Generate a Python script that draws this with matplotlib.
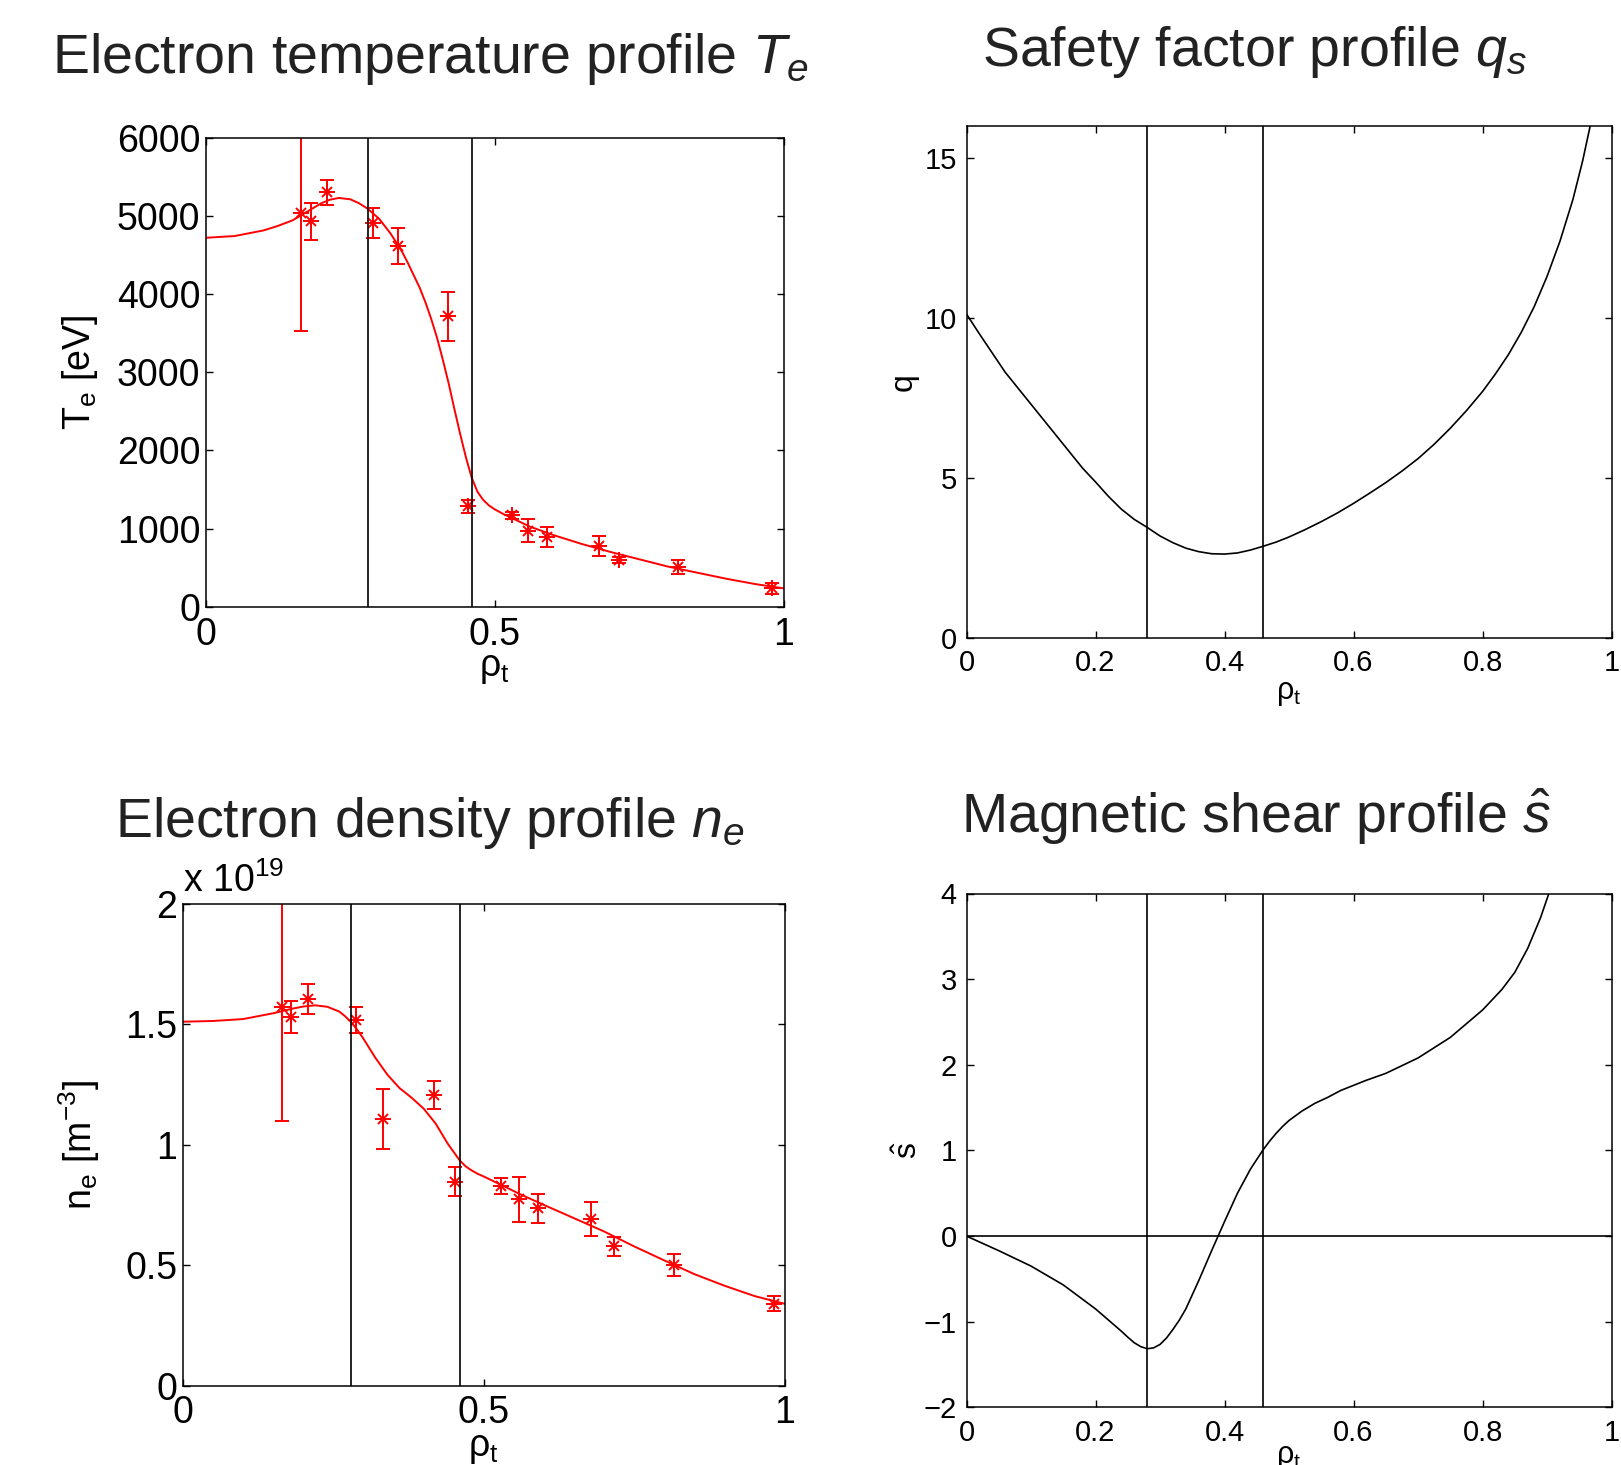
import numpy as np
import matplotlib
matplotlib.use("Agg")
import matplotlib.pyplot as plt

plt.rcParams['font.family'] = ['Liberation Sans', 'DejaVu Sans']
plt.rcParams['mathtext.fontset'] = 'custom'
plt.rcParams['mathtext.rm'] = 'Liberation Sans'
plt.rcParams['mathtext.it'] = 'Liberation Sans:italic'
plt.rcParams['mathtext.bf'] = 'Liberation Sans:bold'

# ---------------- data ----------------
boundaries = [0.28, 0.46]

# Electron temperature measurements
te_rho = [0.165, 0.182, 0.209, 0.290, 0.333, 0.419, 0.453, 0.530, 0.558, 0.591, 0.680, 0.715, 0.817, 0.980]
te_val = [5030, 4930, 5300, 4910, 4615, 3715, 1285, 1172, 975, 890, 775, 603, 513, 235]
te_err = [1500, 235, 160, 195, 227, 316, 80, 45, 150, 130, 125, 40, 90, 73]

# Electron temperature fit
te_fit_rho = [0.0, 0.05, 0.1, 0.125, 0.15, 0.175, 0.2, 0.215, 0.23, 0.25, 0.265, 0.28, 0.3, 0.32,
              0.34, 0.35, 0.36, 0.37, 0.38, 0.39, 0.40, 0.41, 0.42, 0.43, 0.44, 0.45, 0.46,
              0.47, 0.48, 0.49, 0.5, 0.515, 0.53, 0.56, 0.6, 0.65, 0.7, 0.75, 0.8, 0.85, 0.9,
              0.95, 1.0]
te_fit_val = [4718, 4740, 4812, 4870, 4940, 5050, 5160, 5205, 5227, 5210, 5160, 5090, 4960, 4769,
              4534, 4390, 4234, 4080, 3892, 3680, 3440, 3160, 2860, 2530, 2210, 1910, 1650,
              1470, 1365, 1295, 1245, 1185, 1133, 1027, 920, 804, 701, 607, 513, 436, 359,
              291, 235]

# Electron density measurements (units of 1e19 m^-3)
ne_rho = [0.164, 0.180, 0.208, 0.288, 0.332, 0.417, 0.453, 0.529, 0.559, 0.591, 0.678, 0.716, 0.817, 0.982]
ne_val = [1.569, 1.529, 1.603, 1.519, 1.107, 1.206, 0.847, 0.828, 0.773, 0.736, 0.692, 0.578, 0.501, 0.341]
ne_err = [0.47, 0.065, 0.063, 0.054, 0.123, 0.060, 0.060, 0.033, 0.092, 0.061, 0.069, 0.039, 0.047, 0.030]

# Electron density fit
ne_fit_rho = [0.0, 0.05, 0.1, 0.15, 0.18, 0.2, 0.22, 0.24, 0.26, 0.27, 0.28, 0.29, 0.3, 0.32, 0.34,
              0.36, 0.38, 0.40, 0.42, 0.44, 0.46, 0.47, 0.48, 0.49, 0.5, 0.53, 0.56, 0.6, 0.65,
              0.7, 0.75, 0.8, 0.85, 0.9, 0.95, 1.0]
ne_fit_val = [1.510, 1.513, 1.521, 1.545, 1.563, 1.573, 1.578, 1.572, 1.552, 1.532, 1.507, 1.476,
              1.44, 1.36, 1.29, 1.235, 1.195, 1.150, 1.088, 1.005, 0.935, 0.910, 0.893, 0.879,
              0.868, 0.832, 0.795, 0.750, 0.695, 0.640, 0.578, 0.520, 0.463, 0.415, 0.372, 0.340]

# Safety factor profile
q_rho = [0.0, 0.02, 0.04, 0.06, 0.08, 0.1, 0.12, 0.14, 0.16, 0.18, 0.2, 0.22, 0.24, 0.26, 0.28,
         0.3, 0.32, 0.34, 0.36, 0.38, 0.4, 0.42, 0.44, 0.46, 0.48, 0.5, 0.525, 0.55, 0.575, 0.6,
         0.625, 0.65, 0.675, 0.7, 0.725, 0.75, 0.775, 0.8, 0.82, 0.84, 0.86, 0.88, 0.9, 0.92,
         0.94, 0.955, 0.97]
q_val = [10.12, 9.5, 8.9, 8.3, 7.8, 7.3, 6.8, 6.3, 5.8, 5.3, 4.87, 4.42, 4.02, 3.7, 3.45,
         3.18, 2.97, 2.8, 2.69, 2.625, 2.615, 2.65, 2.74, 2.86, 2.99, 3.15, 3.38, 3.63, 3.9, 4.2,
         4.52, 4.85, 5.21, 5.6, 6.05, 6.55, 7.1, 7.7, 8.25, 8.85, 9.55, 10.35, 11.3, 12.4,
         13.7, 14.9, 16.3]

# Magnetic shear profile
s_rho = [0.0, 0.05, 0.1, 0.15, 0.2, 0.22, 0.24, 0.25, 0.26, 0.27, 0.28, 0.29, 0.3, 0.31, 0.32,
         0.33, 0.34, 0.36, 0.38, 0.40, 0.42, 0.44, 0.46, 0.47, 0.48, 0.49, 0.5, 0.52, 0.54,
         0.56, 0.58, 0.6, 0.62, 0.65, 0.7, 0.75, 0.8, 0.83, 0.85, 0.87, 0.89, 0.905]
s_val = [0.0, -0.17, -0.35, -0.57, -0.85, -0.98, -1.11, -1.18, -1.245, -1.29, -1.315, -1.305,
         -1.265, -1.19, -1.09, -0.98, -0.85, -0.52, -0.17, 0.17, 0.5, 0.78, 1.01, 1.11, 1.2,
         1.28, 1.35, 1.46, 1.55, 1.62, 1.70, 1.76, 1.82, 1.90, 2.08, 2.32, 2.64, 2.88, 3.08,
         3.36, 3.72, 4.05]

# ---------------- figure ----------------
W, H = 1621, 1465
fig = plt.figure(figsize=(W / 100, H / 100), dpi=100)


def rect(l, t, r, b):
    return [l / W, 1 - b / H, (r - l) / W, (b - t) / H]


def style(ax, fs, xpad, ypad):
    ax.tick_params(direction='in', top=True, right=True, length=5, width=1.0, labelsize=fs)
    ax.tick_params(axis='x', pad=xpad)
    ax.tick_params(axis='y', pad=ypad)
    for sp in ax.spines.values():
        sp.set_linewidth(1.1)


RED = '#ff0000'
LFS = 27   # left panels font size
RFS = 21   # right panels font size


def meas(ax, rho, val, err):
    ax.errorbar(rho, val, yerr=err, fmt='none', ecolor=RED, elinewidth=1.4,
                capsize=5, capthick=1.4)
    ax.plot(rho, val, ls='none', marker='+', ms=11, mew=1.4, color=RED)
    ax.plot(rho, val, ls='none', marker='x', ms=7.5, mew=1.4, color=RED)


# --- Top-left: Te ---
ax1 = fig.add_axes(rect(205.7, 137.5, 784.0, 606.8))
ax1.plot(te_fit_rho, te_fit_val, color=RED, lw=1.4)
meas(ax1, te_rho, te_val, te_err)
for b in boundaries:
    ax1.axvline(b, color='black', lw=1.2)
ax1.set_xlim(0, 1)
ax1.set_ylim(0, 6000)
ax1.set_xticks([0, 0.5, 1])
ax1.set_xticklabels(['0', '0.5', '1'])
ax1.set_yticks([0, 1000, 2000, 3000, 4000, 5000, 6000])
style(ax1, LFS, 7, 4)
ax1.set_xlabel(r'ρ$_\mathregular{t}$', fontsize=LFS, labelpad=-2)
ax1.set_ylabel(r'T$_\mathregular{e}$ [eV]', fontsize=LFS, labelpad=12)

# --- Top-right: q ---
ax2 = fig.add_axes(rect(966.5, 126.0, 1611.6, 637.7))
ax2.plot(q_rho, q_val, color='black', lw=1.2)
for b in boundaries:
    ax2.axvline(b, color='black', lw=1.2)
ax2.set_xlim(0, 1)
ax2.set_ylim(0, 16)
ax2.set_xticks([0, 0.2, 0.4, 0.6, 0.8, 1])
ax2.set_xticklabels(['0', '0.2', '0.4', '0.6', '0.8', '1'])
ax2.set_yticks([0, 5, 10, 15])
style(ax2, RFS, 8, 7)
ax2.set_xlabel(r'ρ$_\mathregular{t}$', fontsize=RFS + 1, labelpad=1)
ax2.set_ylabel('q', fontsize=RFS + 2, labelpad=4)

# --- Bottom-left: ne ---
ax3 = fig.add_axes(rect(182.9, 903.6, 784.5, 1385.7))
ax3.plot(ne_fit_rho, ne_fit_val, color=RED, lw=1.4)
meas(ax3, ne_rho, ne_val, ne_err)
for b in boundaries:
    ax3.axvline(b, color='black', lw=1.2)
ax3.set_xlim(0, 1)
ax3.set_ylim(0, 2)
ax3.set_xticks([0, 0.5, 1])
ax3.set_xticklabels(['0', '0.5', '1'])
ax3.set_yticks([0, 0.5, 1, 1.5, 2])
ax3.set_yticklabels(['0', '0.5', '1', '1.5', '2'])
style(ax3, LFS, 7, 4)
ax3.set_xlabel(r'ρ$_\mathregular{t}$', fontsize=LFS, labelpad=-1)
ax3.set_ylabel(r'n$_\mathregular{e}$ [m$^\mathregular{-3}$]', fontsize=LFS, labelpad=17)
ax3.text(0.0, 1.008, r'x 10$^\mathregular{19}$', transform=ax3.transAxes,
         fontsize=LFS, ha='left', va='bottom')

# --- Bottom-right: s hat ---
ax4 = fig.add_axes(rect(966.5, 893.5, 1611.6, 1407.4))
ax4.plot(s_rho, s_val, color='black', lw=1.2)
ax4.axhline(0, color='black', lw=1.2)
for b in boundaries:
    ax4.axvline(b, color='black', lw=1.2)
ax4.set_xlim(0, 1)
ax4.set_ylim(-2, 4)
ax4.set_xticks([0, 0.2, 0.4, 0.6, 0.8, 1])
ax4.set_xticklabels(['0', '0.2', '0.4', '0.6', '0.8', '1'])
ax4.set_yticks([-2, -1, 0, 1, 2, 3, 4])
style(ax4, RFS, 8, 7)
ax4.set_xlabel(r'ρ$_\mathregular{t}$', fontsize=RFS + 1, labelpad=-3)
ax4.set_ylabel(r'$\hat{\mathrm{s}}$', fontsize=RFS + 2, labelpad=0)

# --- Titles ---
TFS = 40
TCOL = '#222222'
fig.text(430 / W, 1 - 73.4 / H, r'Electron temperature profile $T_e$', fontsize=TFS,
         ha='center', va='baseline', color=TCOL)
fig.text(1255 / W, 1 - 66 / H, r'Safety factor profile $q_s$', fontsize=TFS,
         ha='center', va='baseline', color=TCOL)
fig.text(429.5 / W, 1 - 837 / H, r'Electron density profile $n_e$', fontsize=TFS,
         ha='center', va='baseline', color=TCOL)
fig.text(1256 / W, 1 - 833 / H, r'Magnetic shear profile $\hat{s}$', fontsize=TFS,
         ha='center', va='baseline', color=TCOL)

fig.savefig('out.png', dpi=100)
